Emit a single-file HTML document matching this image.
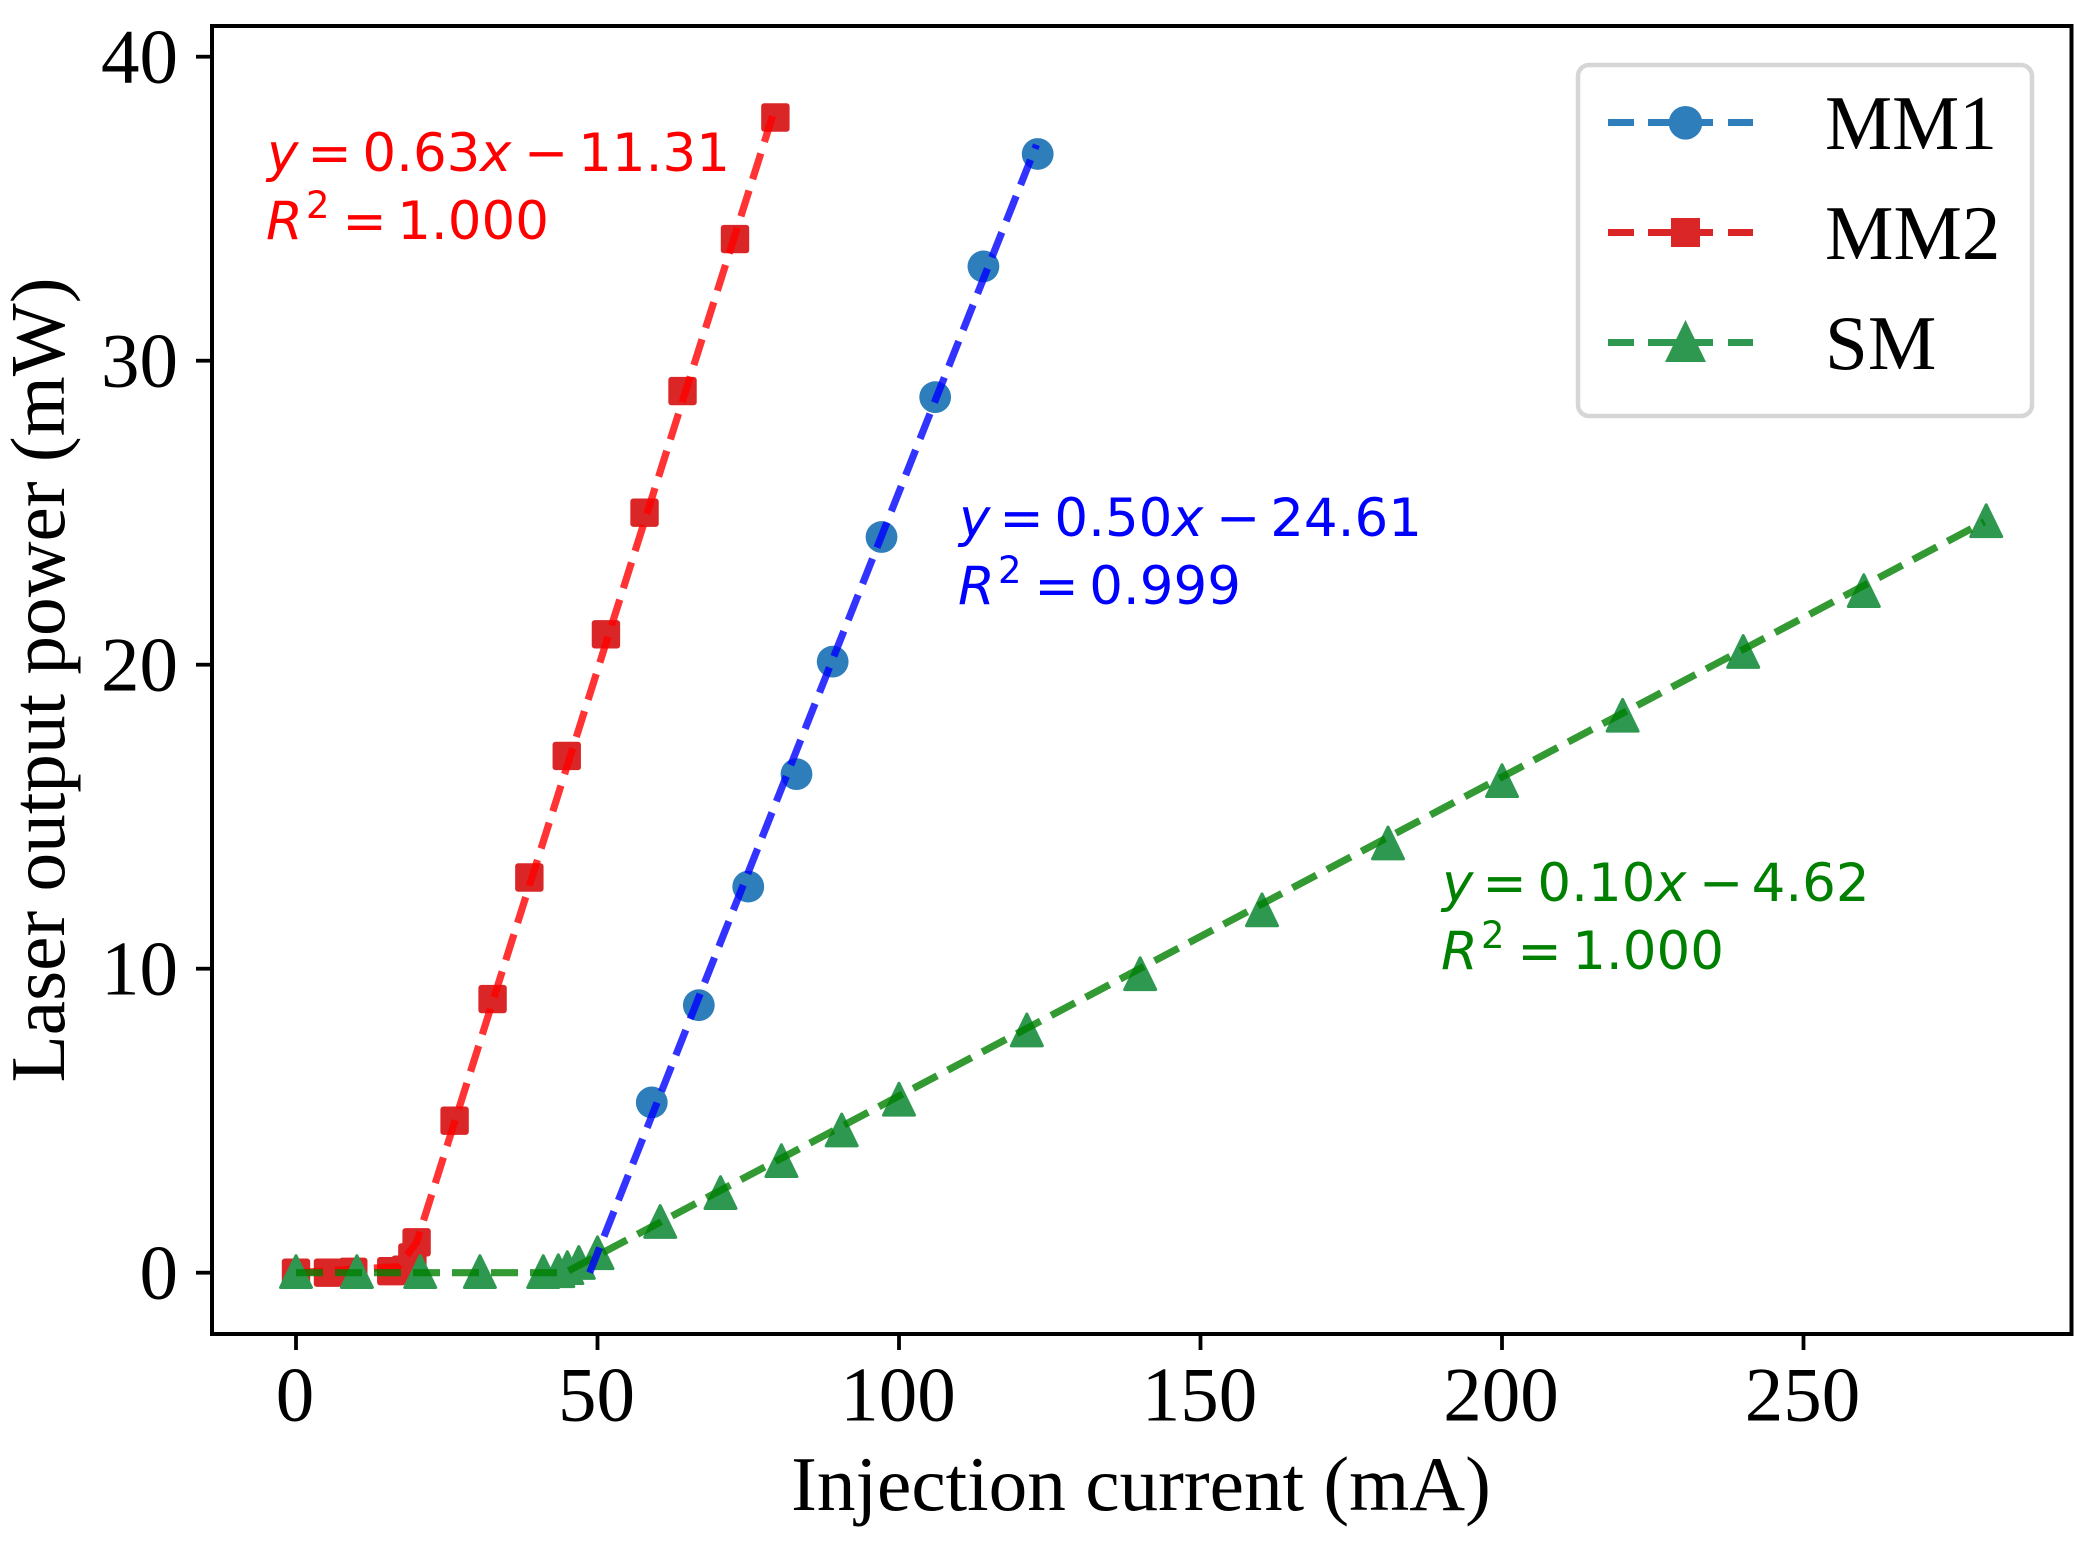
<!DOCTYPE html>
<html lang="en">
<head>
<meta charset="utf-8">
<title>Laser output power vs injection current</title>
<style>
html,body{margin:0;padding:0;background:#fff;width:2090px;height:1547px;overflow:hidden}
svg{display:block}
.serif{font-family:"Liberation Serif",serif;font-size:77px;fill:#000}
.title{font-size:77.3px}
.math{font-family:"DejaVu Sans",sans-serif;font-size:53px}
.math .i{font-style:italic}
.math .s{font-size:37px}
</style>
</head>
<body>
<svg id="chart" xmlns="http://www.w3.org/2000/svg" width="2090" height="1547" viewBox="0 0 2090 1547">
  <rect x="0" y="0" width="2090" height="1547" fill="#fff"/>
  <g id="marks"></g>
  <g id="ticks"></g>
  <rect x="212" y="26" width="1859.5" height="1308" fill="none" stroke="#000" stroke-width="4"/>

  <text class="math" fill="#ff0000" y="171"><tspan class="i" x="267">y</tspan><tspan x="307.4">=</tspan><tspan x="362.4">0.63</tspan><tspan class="i" x="480">x</tspan><tspan x="524">−</tspan><tspan x="578.2">11.31</tspan></text>
  <text class="math" fill="#ff0000" y="239"><tspan class="i" x="266">R</tspan><tspan class="s" x="306" dy="-21">2</tspan><tspan x="342.4" dy="21">=</tspan><tspan x="397.2">1.000</tspan></text>

  <text class="math" fill="#0000ff" y="536"><tspan class="i" x="959">y</tspan><tspan x="999.4">=</tspan><tspan x="1054.4">0.50</tspan><tspan class="i" x="1172">x</tspan><tspan x="1216">−</tspan><tspan x="1270.2">24.61</tspan></text>
  <text class="math" fill="#0000ff" y="604"><tspan class="i" x="958">R</tspan><tspan class="s" x="998" dy="-21">2</tspan><tspan x="1034.4" dy="21">=</tspan><tspan x="1089.2">0.999</tspan></text>

  <text class="math" fill="#008000" y="901"><tspan class="i" x="1442">y</tspan><tspan x="1482.4">=</tspan><tspan x="1537.4">0.10</tspan><tspan class="i" x="1655">x</tspan><tspan x="1699">−</tspan><tspan x="1751.6">4.62</tspan></text>
  <text class="math" fill="#008000" y="969"><tspan class="i" x="1441">R</tspan><tspan class="s" x="1481" dy="-21">2</tspan><tspan x="1517.4" dy="21">=</tspan><tspan x="1572.2">1.000</tspan></text>

  <text class="serif title" x="1141" y="1510" text-anchor="middle">Injection current (mA)</text>
  <text class="serif title" x="0" y="0" text-anchor="middle" transform="translate(64 680) rotate(-90)">Laser output power (mW)</text>

  <g>
    <rect x="1578" y="65" width="454" height="351" rx="11" fill="#fff" stroke="#d6d6d6" stroke-width="4.5"/>
    <g>
      <path d="M1608 122.5H1634M1648 122.5H1713M1728 122.5H1753" stroke="#2e7ebb" stroke-width="7" fill="none"/>
      <circle cx="1685.5" cy="122.8" r="16.8" fill="#2e7ebb"/>
      <text class="serif" x="1825" y="149" textLength="172" lengthAdjust="spacingAndGlyphs">MM1</text>
    </g>
    <g>
      <path d="M1608 232.5H1634M1648 232.5H1713M1728 232.5H1753" stroke="#da2626" stroke-width="7" fill="none"/>
      <rect x="1671" y="218" width="29" height="29" fill="#da2626"/>
      <text class="serif" x="1825" y="259">MM2</text>
    </g>
    <g>
      <path d="M1608 342.5H1634M1648 342.5H1713M1728 342.5H1753" stroke="#2f9850" stroke-width="7" fill="none"/>
      <polygon points="1685.5,320 1706,362 1665,362" fill="#2f9850"/>
      <text class="serif" x="1825" y="369">SM</text>
    </g>
  </g>
</svg>
<script>
var xTickLabels = [0, 50, 100, 150, 200, 250];
var yTickLabels = [0, 10, 20, 30, 40];

var mm1X = [59, 66.8, 75, 83, 89, 97.1, 106, 114, 123];
var mm1Y = [5.6, 8.8, 12.7, 16.4, 20.1, 24.2, 28.8, 33.1, 36.8];
var mm1FitX = [48.7, 122.8];
var mm1FitY = [0, 37.1];

var mm2X = [0, 5.3, 9.5, 15.8, 18.2, 19.3, 20, 26.3, 32.6, 38.7, 44.9, 51.4, 57.8, 64.1, 72.8, 79.5];
var mm2Y = [0, 0, 0.03, 0.05, 0.1, 0.5, 1, 5, 9, 13, 17, 21, 25, 29, 34, 38];
var mm2FitX = [0, 17, 20, 79.6];
var mm2FitY = [0, 0.2, 1, 38.4];

var smX = [0, 10.1, 20.6, 30.5, 41, 43.5, 45, 46.9, 50, 60.4, 70.4, 80.5, 90.5, 100, 121.2, 140, 160.2, 181.1, 200, 220, 240, 260, 280.3];
var smY = [0, 0, 0, 0, 0, 0.03, 0.13, 0.3, 0.62, 1.65, 2.6, 3.65, 4.66, 5.67, 7.95, 9.8, 11.9, 14.1, 16.15, 18.3, 20.4, 22.4, 24.7];
var smFitX = [0, 44.6, 280];
var smFitY = [0, 0, 24.7];

var NS = 'http://www.w3.org/2000/svg';
function xScale(v) { return 296 + v * 6.03; }
function yScale(v) { return 1272.7 - v * 30.4; }

var marks = document.getElementById('marks');
var ticks = document.getElementById('ticks');

function make(tag, attrs, parent) {
  var el = document.createElementNS(NS, tag);
  for (var k in attrs) { el.setAttribute(k, attrs[k]); }
  parent.appendChild(el);
  return el;
}

function drawCircles(xs, ys, color) {
  xs.forEach(function (x, i) {
    var el = make('circle', { cx: xScale(x), cy: yScale(ys[i]), r: 15.9, fill: color }, marks);
    
    
  });
}
function drawSquares(xs, ys, color) {
  xs.forEach(function (x, i) {
    var el = make('rect', { x: xScale(x) - 14.2, y: yScale(ys[i]) - 14.2, width: 28.4, height: 28.4, rx: 3, fill: color }, marks);
    
    
  });
}
function drawTriangles(xs, ys, color) {
  xs.forEach(function (x, i) {
    var cx = xScale(x), cy = yScale(ys[i]);
    var pts = cx + ',' + (cy - 17) + ' ' + (cx + 15.5) + ',' + (cy + 14.8) + ' ' + (cx - 15.5) + ',' + (cy + 14.8);
    var el = make('polygon', { points: pts, fill: color, stroke: color, 'stroke-width': 3, 'stroke-linejoin': 'round' }, marks);
    
    
  });
}
function drawFit(xs, ys, color, name) {
  var pts = xs.map(function (x, i) { return xScale(x) + ',' + yScale(ys[i]); }).join(' ');
  var el = make('polyline', { points: pts, fill: 'none', stroke: color, 'stroke-opacity': 0.8, 'stroke-width': 7.2, 'stroke-dasharray': '27 12', 'stroke-linejoin': 'round' }, marks);
  
  
}

drawCircles(mm1X, mm1Y, '#2e7ebb');
drawSquares(mm2X, mm2Y, '#da2626');
drawFit(mm2FitX, mm2FitY, '#ff0000', 'mm2-fit-line');
drawTriangles(smX, smY, '#2f9850');
drawFit(smFitX, smFitY, '#008000', 'sm-fit-line');
drawFit(mm1FitX, mm1FitY, '#0000ff', 'mm1-fit-line');

xTickLabels.forEach(function (v) {
  var tick = make('line', { x1: xScale(v), x2: xScale(v), y1: 1334, y2: 1350, stroke: '#000', 'stroke-width': 3.8 }, ticks);
  
  
  var label = make('text', { x: xScale(v) - 1, y: 1420.7, 'text-anchor': 'middle', 'class': 'serif' }, ticks);
  
  
  label.textContent = v;
});
yTickLabels.forEach(function (v) {
  var tick = make('line', { x1: 196, x2: 212, y1: yScale(v), y2: yScale(v), stroke: '#000', 'stroke-width': 3.8 }, ticks);
  
  
  var label = make('text', { x: 178, y: yScale(v) + 26, 'text-anchor': 'end', 'class': 'serif' }, ticks);
  
  
  label.textContent = v;
});
</script>
</body>
</html>
